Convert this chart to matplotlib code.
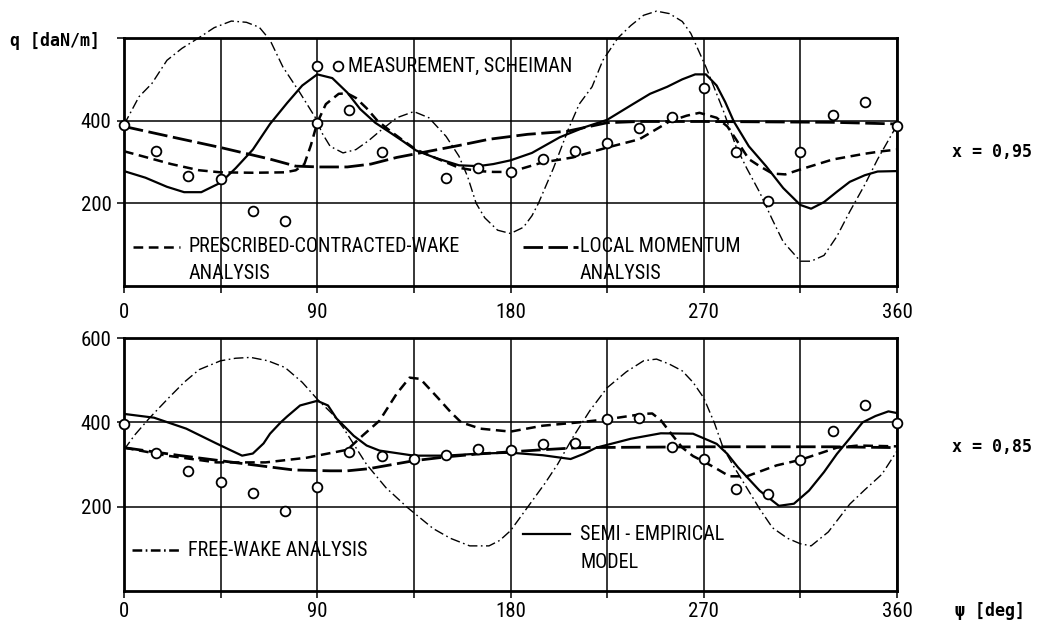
import matplotlib
matplotlib.use("Agg")
import matplotlib.pyplot as plt
from matplotlib import font_manager

# font: a narrow sans is closest to the typewriter lettering of the scan
names = {f.name for f in font_manager.fontManager.ttflist}
NARROW = 'DejaVu Sans'
STRETCH = 'normal'
for cand in ['Liberation Sans Narrow', 'Roboto Condensed', 'Open Sans Condensed', 'DejaVu Sans Condensed']:
    if cand in names:
        NARROW = cand
        break
else:
    path = font_manager.findfont(font_manager.FontProperties(family='DejaVu Sans', stretch='condensed'))
    if 'Condensed' in path:
        STRETCH = 'condensed'
MONO = 'DejaVu Sans Mono'
plt.rcParams['lines.scale_dashes'] = False

# ---------------- data, x = 0.95 (top panel) ----------------
meas_psi_95 = [0, 15, 30, 45, 60, 75, 90, 90, 105, 120, 150, 165, 180, 195, 210,
               225, 240, 255, 270, 285, 300, 315, 330, 345, 360]
meas_q_95 = [390, 326, 266, 260, 182, 158, 395, 532, 426, 323, 261, 286, 275, 307, 326,
             345, 383, 410, 479, 324, 206, 323, 414, 446, 388]

semi_psi_95 = [0, 10, 20, 28, 36, 45, 52, 60, 68, 76, 83, 90, 97, 104, 110, 117, 124, 130,
               136, 145, 156, 165, 172, 180, 190, 203, 215, 225, 237, 245, 253, 260, 266,
               271, 276, 280, 284, 291, 299, 307, 315, 320, 326, 332, 338, 345, 351, 360]
semi_q_95 = [278, 262, 240, 227, 227, 250, 285, 330, 392, 443, 485, 512, 503, 468, 428, 395, 371, 350,
             328, 310, 292, 290, 295, 304, 322, 360, 385, 402, 440, 465, 482, 500, 512,
             512, 485, 445, 398, 338, 290, 237, 196, 187, 203, 228, 252, 268, 277, 278]

pres_psi_95 = [0, 10, 22, 35, 45, 60, 75, 80, 84, 87, 90, 94, 100, 104, 108, 113, 118, 124,
               130, 136, 145, 156, 165, 172, 180, 195, 209, 225, 240, 254, 262, 268, 276,
               281, 285, 291, 296, 302, 308, 315, 330, 345, 353, 360]
pres_q_95 = [326, 312, 295, 280, 275, 274, 275, 280, 295, 340, 395, 440, 465, 466, 455, 430, 400, 375,
             352, 330, 310, 286, 278, 276, 276, 299, 311, 335, 355, 398, 412, 419, 407,
             386, 355, 307, 290, 272, 270, 282, 306, 320, 326, 330]

locm_psi_95 = [0, 21, 45, 68, 80, 91, 104, 115, 127, 142, 156, 170, 188, 206, 225, 240,
               270, 300, 330, 360]
locm_q_95 = [386, 362, 335, 307, 290, 288, 288, 295, 311, 326, 340, 355, 367, 374, 395, 398,
             398, 397, 396, 392]

free_psi_95 = [0, 7, 13, 20, 27, 35, 42, 50, 57, 63, 68, 74, 82, 90, 92, 96, 102, 108, 114,
               119, 127, 135, 142, 150, 156, 160, 164, 168, 174, 180, 186, 190, 193, 200,
               207, 212, 218, 223, 230, 236, 242, 248, 254, 260, 264, 271, 279, 285, 290,
               296, 302, 307, 315, 320, 326, 332, 338, 345, 351, 358, 360]
free_q_95 = [390, 458, 490, 546, 575, 601, 625, 641, 638, 626, 595, 530, 467, 400, 372, 338, 322, 330, 352,
             374, 407, 422, 407, 362, 314, 265, 200, 165, 135, 127, 142, 170, 200, 285,
             380, 440, 482, 546, 600, 630, 655, 665, 659, 640, 611, 530, 426, 338, 285,
             227, 160, 107, 60, 60, 74, 120, 180, 245, 307, 371, 388]

# ---------------- data, x = 0.85 (bottom panel) ----------------
meas_psi_85 = [0, 15, 30, 45, 60, 75, 90, 105, 120, 135, 150, 165, 180, 195, 210,
               225, 240, 255, 270, 285, 300, 315, 330, 345, 360]
meas_q_85 = [395, 328, 285, 259, 233, 190, 247, 330, 321, 312, 323, 336, 335, 349, 352,
             409, 411, 341, 312, 243, 231, 311, 380, 440, 399]

semi_psi_85 = [0, 14, 29, 43, 50, 55, 60, 65, 68, 73, 76, 82, 90, 95, 99, 107, 113, 119,
               135, 150, 166, 180, 195, 208, 214, 220, 236, 250, 265, 276, 281, 286, 296,
               305, 312, 319, 326, 332, 338, 344, 350, 356, 360]
semi_q_85 = [420, 411, 385, 350, 333, 321, 326, 350, 373, 400, 414, 440, 451, 440, 409, 368, 345, 333,
             321, 321, 326, 328, 322, 313, 325, 340, 361, 374, 373, 349, 325, 293, 238,
             202, 207, 238, 282, 325, 362, 400, 415, 426, 422]

pres_psi_85 = [0, 20, 43, 66, 85, 90, 104, 111, 119, 127, 133, 138, 146, 152, 157, 166, 180,
               195, 212, 226, 242, 246, 250, 255, 260, 265, 270, 276, 282, 290, 297, 304,
               315, 325, 332, 342, 360]
pres_q_85 = [340, 321, 305, 305, 316, 321, 335, 368, 404, 468, 506, 503, 459, 425, 400, 385, 378,
             392, 400, 408, 420, 421, 405, 372, 340, 320, 307, 290, 272, 272, 285, 298,
             311, 328, 340, 345, 343]

locm_psi_85 = [0, 25, 51, 79, 96, 104, 114, 135, 150, 165, 180, 195, 212, 240, 270, 300, 330, 360]
locm_q_85 = [340, 322, 305, 287, 285, 285, 290, 309, 318, 325, 330, 335, 340, 341, 342, 342, 342, 340]

free_psi_85 = [0, 5, 12, 21, 28, 35, 45, 52, 59, 67, 75, 83, 90, 97, 102, 108, 113, 122, 132,
               144, 152, 161, 170, 175, 180, 189, 196, 202, 209, 217, 225, 234, 242, 248,
               254, 260, 265, 270, 275, 279, 284, 290, 296, 302, 309, 315, 320, 328, 338,
               345, 353, 360]
free_q_85 = [335, 370, 411, 459, 495, 525, 546, 552, 554, 546, 530, 495, 455, 420, 388, 340, 300, 245, 198,
             148, 125, 107, 107, 120, 143, 206, 255, 301, 364, 428, 482, 520, 546, 550,
             538, 522, 495, 458, 398, 340, 295, 245, 195, 150, 125, 112, 107, 140, 206,
             240, 277, 332]

xticks = [0, 90, 180, 270, 360]
xtick_labels = ['0', '90', '180', '270', '360']

# ---------------- styles ----------------
W, H = 1041, 625
STY_SEMI = dict(color='black', lw=1.6, ls='-')
STY_PRES = dict(color='black', lw=1.8, ls=(0, (7, 4)))
STY_LOCM = dict(color='black', lw=2.0, ls=(0, (14, 4)))
STY_FREE = dict(color='black', lw=1.0, ls=(0, (7, 2.5, 1.2, 2.5)))
MARK = dict(ls='none', marker='o', ms=7, mfc='white', mec='black', mew=1.3, zorder=5, clip_on=False)
FS = 12.5 if STRETCH == 'normal' and NARROW == 'DejaVu Sans' else 14.5
TXT = dict(family=NARROW, stretch=STRETCH, fontsize=FS)
TICK = dict(family=NARROW, stretch=STRETCH, fontsize=FS + 0.5)

fig = plt.figure(figsize=(W / 100, H / 100), dpi=100)
fig.patch.set_facecolor('white')


def px_axes(x0, y0, x1, y1):
    return fig.add_axes([x0 / W, 1 - y1 / H, (x1 - x0) / W, (y1 - y0) / H])


def ftext(x, y, s, **kw):
    fig.text(x / W, 1 - y / H, s, **kw)


def style_axes(ax, ylabels, xpad):
    ax.set_xlim(0, 360)
    ax.set_ylim(0, 600)
    ax.set_xticks(xticks)
    ax.set_xticklabels(xtick_labels, **TICK)
    ax.set_xticks([45, 135, 225, 315], minor=True)
    ax.set_yticks([200, 400, 600])
    ax.set_yticklabels(ylabels, **TICK)
    ax.grid(True, which='both', color='black', lw=1.1)
    ax.tick_params(which='both', direction='out', length=5, width=1.1)
    ax.tick_params(axis='x', pad=xpad)
    ax.tick_params(axis='y', pad=4)
    for s in ax.spines.values():
        s.set_linewidth(2.0)
    ax.set_axisbelow(True)


# top panel
ax1 = px_axes(124, 38, 897, 286)
style_axes(ax1, ['200', '400', ''], 7)
ax1.plot(free_psi_95, free_q_95, clip_on=False, **STY_FREE)
ax1.plot(locm_psi_95, locm_q_95, **STY_LOCM)
ax1.plot(pres_psi_95, pres_q_95, **STY_PRES)
ax1.plot(semi_psi_95, semi_q_95, **STY_SEMI)
ax1.plot(meas_psi_95, meas_q_95, **MARK)

# bottom panel
ax2 = px_axes(124, 338, 897, 591)
style_axes(ax2, ['200', '400', '600'], 3)
ax2.plot(free_psi_85, free_q_85, **STY_FREE)
ax2.plot(locm_psi_85, locm_q_85, **STY_LOCM)
ax2.plot(pres_psi_85, pres_q_85, **STY_PRES)
ax2.plot(semi_psi_85, semi_q_85, **STY_SEMI)
ax2.plot(meas_psi_85, meas_q_85, **MARK)

# legends drawn inside the panels, in pixel positions of the scan
LEG = dict(TXT, va='center', ha='left')


def legline(y, x0, x1, sty):
    fig.add_artist(plt.Line2D([x0 / W, x1 / W], [1 - y / H, 1 - y / H], **sty))


fig.add_artist(plt.Line2D([338 / W], [1 - 66 / H], **MARK))
ftext(348, 66, 'MEASUREMENT, SCHEIMAN', **LEG)

legline(247, 133, 180, STY_PRES)
ftext(189, 247, 'PRESCRIBED-CONTRACTED-WAKE', **LEG)
ftext(189, 273, 'ANALYSIS', **LEG)
legline(247, 523, 578, STY_LOCM)
ftext(580, 247, 'LOCAL MOMENTUM', **LEG)
ftext(580, 273, 'ANALYSIS', **LEG)

legline(550, 132, 180, dict(STY_FREE, lw=1.8))
ftext(188, 550, 'FREE-WAKE ANALYSIS', **LEG)
legline(534, 523, 570, STY_SEMI)
ftext(580, 534, 'SEMI - EMPIRICAL', **LEG)
ftext(580, 563, 'MODEL', **LEG)

# axis titles and panel labels
ftext(10, 41, 'q [daN/m]', family=MONO, fontsize=12, fontweight='bold', va='center', ha='left')
ftext(952, 152, 'x = 0,95', family=MONO, fontsize=12, fontweight='bold', va='center', ha='left')
ftext(952, 447, 'x = 0,85', family=MONO, fontsize=12, fontweight='bold', va='center', ha='left')
ftext(955, 611, 'ψ [deg]', family=MONO, fontsize=12, fontweight='bold', va='center', ha='left')

fig.savefig('out.png', dpi=100, facecolor='white')
